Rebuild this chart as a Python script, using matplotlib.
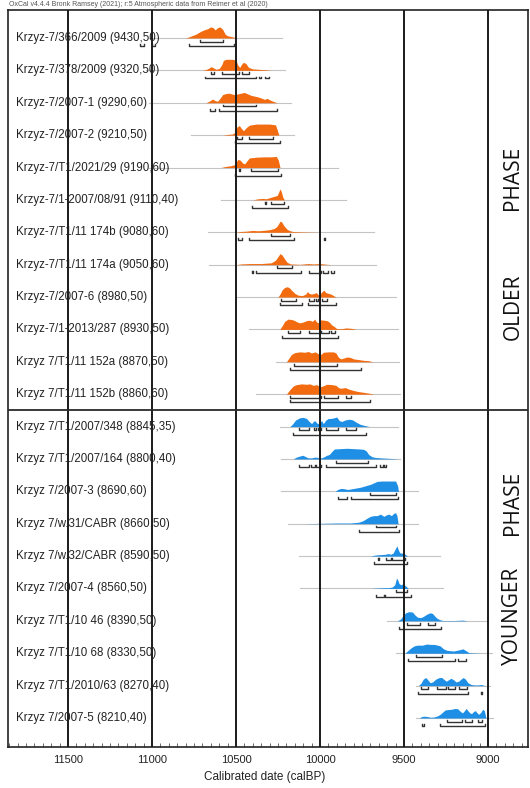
import numpy as np
import matplotlib.pyplot as plt

plt.rcParams['font.family'] = ['Liberation Sans', 'DejaVu Sans']

# sample labels, top to bottom (first 12 = older phase)
labels = [
    'Krzyz-7/366/2009 (9430,50)', 'Krzyz-7/378/2009 (9320,50)',
    'Krzyz-7/2007-1 (9290,60)', 'Krzyz-7/2007-2 (9210,50)',
    'Krzyz-7/T1/2021/29 (9190,60)', 'Krzyz-7/1-2007/08/91 (9110,40)',
    'Krzyz-7/T1/11 174b (9080,60)', 'Krzyz-7/T1/11 174a (9050,60)',
    'Krzyz-7/2007-6 (8980,50)', 'Krzyz-7/1-2013/287 (8930,50)',
    'Krzyz 7/T1/11 152a (8870,50)', 'Krzyz 7/T1/11 152b (8860,60)',
    'Krzyz 7/T1/2007/348 (8845,35)', 'Krzyz 7/T1/2007/164 (8800,40)',
    'Krzyz 7/2007-3 (8690,60)', 'Krzyz 7/w.31/CABR (8660,50)',
    'Krzyz 7/w.32/CABR (8590,50)', 'Krzyz 7/2007-4 (8560,50)',
    'Krzyz 7/T1/10 46 (8390,50)', 'Krzyz 7/T1/10 68 (8330,50)',
    'Krzyz 7/T1/2010/63 (8270,40)', 'Krzyz 7/2007-5 (8210,40)',
]
n_older = 12

# grey baseline extent (calBP)
line_from = [11017, 11035, 11017, 10768, 11017, 10589, 10669, 10659, 10500, 10420, 10261,
             10380, 10241, 10231, 10231, 10191, 10126, 10122, 9601, 9549, 9426, 9426]
line_to = [10229, 10211, 10171, 10152, 9893, 9843, 9680, 9664, 9545, 9537, 9531,
           9525, 9535, 9525, 9416, 9416, 9286, 9267, 8998, 8978, 8988, 8968]

# 68.2% ranges
r68 = [
    [(10714, 10579)],
    [(10649, 10633), (10583, 10484), (10464, 10424)],
    [(10579, 10381)],
    [(10492, 10464), (10420, 10281)],
    [(10484, 10476), (10410, 10251)],
    [(10329, 10321), (10290, 10217)],
    [(10291, 10181)],
    [(10257, 10166)],
    [(10231, 10142), (10066, 10036), (10022, 10012), (9986, 9957)],
    [(10191, 10118), (10066, 10002), (9993, 9947), (9933, 9913)],
    [(10152, 9899)],
    [(10177, 9993), (9979, 9893), (9843, 9813)],
    [(10126, 10066), (10038, 10022), (10012, 9993), (9963, 9893), (9843, 9784)],
    [(9903, 9714)],
    [(9704, 9545)],
    [(9664, 9545)],
    [(9654, 9646), (9605, 9575), (9569, 9495)],
    [(9549, 9485)],
    [(9481, 9406), (9356, 9316)],
    [(9430, 9276)],
    [(9396, 9356), (9306, 9251), (9237, 9197), (9171, 9127)],
    [(9247, 9157), (9137, 9098), (9058, 9038)],
]

# 95.4% ranges
r95 = [
    [(11070, 11048), (10998, 10982), (10782, 10509)],
    [(10684, 10380), (10366, 10349), (10325, 10305)],
    [(10655, 10623), (10599, 10257)],
    [(10507, 10241)],
    [(10504, 10231)],
    [(10406, 10191)],
    [(10490, 10464), (10420, 10152), (9976, 9968)],
    [(10404, 10396), (10380, 10112), (10066, 9993), (9983, 9953), (9933, 9919)],
    [(10241, 10108), (10072, 9907)],
    [(10225, 9893)],
    [(10181, 9754)],
    [(10177, 9704)],
    [(10158, 9728)],
    [(10126, 10066), (10052, 10032), (10022, 9993), (9963, 9668), (9644, 9624), (9620, 9605)],
    [(9893, 9839), (9814, 9535)],
    [(9768, 9529)],
    [(9680, 9481)],
    [(9664, 9620), (9615, 9461)],
    [(9529, 9277)],
    [(9475, 9197), (9177, 9131)],
    [(9416, 9117), (9042, 9034)],
    [(9390, 9382), (9286, 9018)],
]

# posterior densities: (calBP, relative height)
dists = [
    [(10800, 0), (10780, 3), (10740, 10), (10710, 18), (10690, 22), (10670, 25), (10650, 30),
     (10636, 28), (10624, 22), (10610, 28), (10596, 30), (10580, 24), (10564, 10), (10550, 6),
     (10530, 4), (10510, 2), (10496, 0)],
    [(10700, 0), (10680, 2), (10660, 6), (10650, 10), (10638, 8), (10620, 3), (10600, 5),
     (10585, 15), (10575, 27), (10560, 30), (10520, 30), (10500, 28), (10490, 15), (10478, 8),
     (10468, 16), (10455, 22), (10440, 18), (10425, 8), (10400, 4), (10370, 3), (10340, 2),
     (10310, 1), (10290, 0)],
    [(10680, 0), (10660, 4), (10640, 10), (10625, 6), (10610, 4), (10595, 12), (10580, 22),
     (10560, 25), (10540, 26), (10510, 22), (10490, 24), (10470, 26), (10450, 28), (10430, 24),
     (10410, 20), (10390, 18), (10370, 16), (10345, 12), (10330, 9), (10315, 12), (10300, 8),
     (10280, 4), (10255, 0)],
    [(10580, 0), (10550, 2), (10520, 3), (10505, 8), (10495, 22), (10480, 26), (10468, 18),
     (10455, 12), (10440, 20), (10420, 27), (10380, 30), (10340, 30), (10300, 30), (10265, 28),
     (10255, 15), (10245, 0)],
    [(10590, 0), (10560, 3), (10530, 5), (10505, 8), (10490, 22), (10475, 20), (10460, 12),
     (10448, 10), (10435, 18), (10420, 26), (10380, 28), (10330, 29), (10290, 29), (10260, 30),
     (10248, 20), (10238, 0)],
    [(10400, 0), (10370, 3), (10340, 4), (10320, 3), (10300, 6), (10285, 8), (10270, 10),
     (10255, 12), (10245, 22), (10238, 30), (10230, 22), (10222, 8), (10212, 0)],
    [(10500, 0), (10480, 2), (10440, 3), (10400, 5), (10370, 4), (10340, 5), (10300, 7),
     (10275, 10), (10258, 15), (10248, 22), (10238, 30), (10228, 28), (10215, 18), (10200, 10),
     (10185, 5), (10160, 2), (10100, 1), (10000, 0)],
    [(10500, 0), (10470, 2), (10420, 3), (10350, 3), (10290, 5), (10265, 12), (10250, 22),
     (10238, 30), (10225, 26), (10210, 15), (10195, 6), (10175, 2), (10120, 1), (10070, 3),
     (10040, 2), (10000, 3), (9960, 1), (9930, 0)],
    [(10250, 0), (10238, 8), (10225, 20), (10210, 26), (10195, 28), (10182, 25), (10168, 18),
     (10150, 10), (10130, 5), (10105, 4), (10085, 8), (10075, 15), (10065, 10), (10050, 8),
     (10035, 10), (10022, 12), (10010, 6), (10000, 8), (9985, 16), (9975, 18), (9965, 12),
     (9950, 10), (9935, 8), (9920, 4), (9905, 0)],
    [(10240, 0), (10225, 10), (10210, 22), (10190, 28), (10170, 27), (10155, 25), (10135, 20),
     (10120, 18), (10100, 20), (10080, 24), (10062, 25), (10045, 22), (10032, 28), (10020, 20),
     (10008, 18), (9995, 26), (9975, 25), (9960, 24), (9945, 20), (9930, 12), (9915, 8),
     (9900, 2), (9870, 2), (9845, 4), (9815, 3), (9785, 0)],
    [(10200, 0), (10185, 10), (10170, 20), (10150, 25), (10120, 27), (10090, 26), (10070, 28),
     (10050, 24), (10030, 27), (10010, 22), (9995, 20), (9980, 26), (9950, 27), (9920, 27),
     (9905, 24), (9890, 12), (9875, 8), (9860, 10), (9840, 13), (9820, 12), (9800, 8),
     (9770, 6), (9740, 4), (9710, 3), (9685, 0)],
    [(10200, 0), (10180, 12), (10160, 22), (10140, 26), (10110, 28), (10080, 27), (10060, 28),
     (10040, 24), (10020, 26), (10000, 20), (9985, 22), (9960, 27), (9930, 26), (9905, 24),
     (9890, 18), (9875, 16), (9850, 18), (9830, 14), (9800, 10), (9770, 7), (9740, 5),
     (9700, 2), (9680, 0)],
    [(10180, 0), (10165, 6), (10145, 18), (10120, 24), (10100, 25), (10080, 22), (10065, 14),
     (10050, 8), (10040, 14), (10030, 16), (10020, 10), (10010, 8), (10000, 12), (9990, 16),
     (9980, 8), (9965, 18), (9950, 22), (9935, 22), (9915, 24), (9900, 26), (9885, 16),
     (9870, 14), (9850, 18), (9825, 20), (9805, 18), (9785, 12), (9760, 6), (9735, 3),
     (9705, 0)],
    [(10160, 0), (10140, 5), (10120, 8), (10102, 10), (10085, 6), (10070, 3), (10050, 3),
     (10030, 5), (10010, 4), (9990, 3), (9975, 6), (9960, 10), (9945, 12), (9930, 20),
     (9915, 27), (9880, 28), (9840, 29), (9800, 28), (9760, 27), (9740, 26), (9725, 22),
     (9710, 12), (9690, 6), (9670, 4), (9640, 3), (9600, 2), (9560, 1), (9540, 0)],
    [(9910, 0), (9895, 5), (9875, 8), (9855, 7), (9835, 5), (9810, 7), (9785, 9), (9760, 11),
     (9730, 15), (9700, 19), (9680, 23), (9660, 27), (9630, 28), (9600, 28), (9570, 28),
     (9550, 28), (9538, 15), (9533, 0)],
    [(10100, 0), (10000, 1), (9900, 2), (9820, 2), (9770, 4), (9745, 8), (9720, 15),
     (9700, 20), (9680, 22), (9660, 22), (9640, 26), (9620, 20), (9605, 24), (9590, 26),
     (9575, 22), (9562, 28), (9550, 30), (9542, 22), (9535, 0)],
    [(9700, 0), (9670, 3), (9640, 4), (9610, 5), (9595, 7), (9580, 5), (9565, 8), (9552, 20),
     (9542, 28), (9535, 18), (9525, 9), (9512, 8), (9500, 7), (9490, 4), (9480, 0)],
    [(9700, 0), (9660, 1), (9620, 2), (9590, 2), (9570, 4), (9555, 10), (9545, 28),
     (9538, 24), (9530, 14), (9520, 10), (9510, 12), (9500, 10), (9488, 6), (9475, 0)],
    [(9540, 0), (9520, 5), (9505, 15), (9490, 22), (9470, 25), (9450, 24), (9435, 16),
     (9420, 10), (9400, 9), (9385, 12), (9365, 18), (9345, 22), (9330, 20), (9315, 12),
     (9300, 6), (9285, 3), (9270, 1), (9200, 1), (9150, 2), (9120, 0)],
    [(9495, 0), (9480, 6), (9460, 14), (9440, 20), (9420, 22), (9390, 22), (9365, 25),
     (9340, 24), (9320, 24), (9300, 22), (9285, 20), (9265, 12), (9245, 8), (9225, 7),
     (9205, 6), (9185, 8), (9165, 10), (9150, 12), (9135, 8), (9115, 2), (9090, 1), (9040, 0)],
    [(9415, 0), (9400, 6), (9385, 18), (9370, 22), (9355, 14), (9345, 8), (9330, 10),
     (9310, 18), (9290, 22), (9275, 22), (9260, 16), (9248, 12), (9235, 16), (9220, 20),
     (9205, 16), (9190, 10), (9175, 12), (9160, 18), (9148, 22), (9135, 18), (9120, 8),
     (9100, 3), (9080, 2), (9060, 2), (9040, 3), (9025, 1), (9010, 0)],
    [(9410, 0), (9395, 4), (9380, 5), (9360, 4), (9340, 2), (9320, 3), (9300, 6), (9285, 10),
     (9270, 16), (9255, 22), (9235, 23), (9215, 24), (9195, 26), (9180, 25), (9165, 18),
     (9152, 14), (9140, 20), (9130, 26), (9120, 20), (9108, 14), (9098, 12), (9085, 18),
     (9075, 20), (9065, 14), (9055, 10), (9042, 16), (9032, 24), (9022, 20), (9012, 0)],
]

grid_years = [11500, 11000, 10500, 10000, 9500, 9000]

orange = '#f26b10'
blue = '#1f8fe6'
hs = 1 / 88.0   # height -> row units

fig = plt.figure(figsize=(5.3, 7.88), dpi=100)
ax = fig.add_axes([8 / 530, 41 / 788, 520 / 530, 737 / 788])
ax.set_xlim(11857, 8762)
ax.set_ylim(21.895, -0.864)

for i, lab in enumerate(labels):
    col = orange if i < n_older else blue
    ax.plot([line_from[i], line_to[i]], [i, i], color='#c4c4c4', lw=0.8, zorder=1)
    d = np.array(dists[i], dtype=float)
    ax.fill_between(d[:, 0], i, i - d[:, 1] * hs, color=col, lw=0, zorder=2)
    for lo, hi in r68[i]:
        y = i + 0.115
        ax.plot([lo, lo, hi, hi], [y - 0.06, y, y, y - 0.06], color='#333333', lw=1.0, zorder=3)
    for lo, hi in r95[i]:
        y = i + 0.25
        ax.plot([lo, lo, hi, hi], [y - 0.06, y, y, y - 0.06], color='#333333', lw=1.0, zorder=3)
    ax.text(0.0154, i, lab, transform=ax.get_yaxis_transform(), va='center', ha='left',
            fontsize=8.3, color='#222222', zorder=6)

for g in grid_years:
    ax.axvline(g, color='#1a1a1a', lw=1.4, zorder=5)
ax.axhline(n_older - 0.5, color='#2a2a2a', lw=1.3, zorder=5)

# phase labels
ph = dict(rotation=90, va='center', ha='center', fontsize=15, family='Open Sans',
          color='#111111', transform=ax.get_yaxis_transform(), zorder=6)
ax.text(0.971, 4.32, 'PHASE', **ph)
ax.text(0.971, 8.30, 'OLDER', **ph)
ax.text(0.971, 14.35, 'PHASE', **ph)
ax.text(0.971, 17.84, 'YOUNGER', **ph)

ax.set_xticks(grid_years)
ax.set_xticklabels([str(g) for g in grid_years])
ax.set_xticks(np.arange(8800, 11851, 50), minor=True)
ax.tick_params(axis='x', which='major', direction='in', length=0, pad=6,
               labelsize=8, labelcolor='#222222')
ax.tick_params(axis='x', which='minor', direction='in', length=3, width=0.6, color='#555555')
ax.set_yticks([])
for s in ax.spines.values():
    s.set_linewidth(1.2)
    s.set_color('#222222')

fig.text(265 / 530, 1 - 777 / 788, 'Calibrated date (calBP)', ha='center', va='center',
         fontsize=8.5, color='#222222')
fig.text(9 / 530, 1 - 4 / 788,
         'OxCal v4.4.4 Bronk Ramsey (2021); r:5 Atmospheric data from Reimer et al (2020)',
         ha='left', va='center', fontsize=5.0, color='#555555')

fig.savefig('out.png', dpi=100)
